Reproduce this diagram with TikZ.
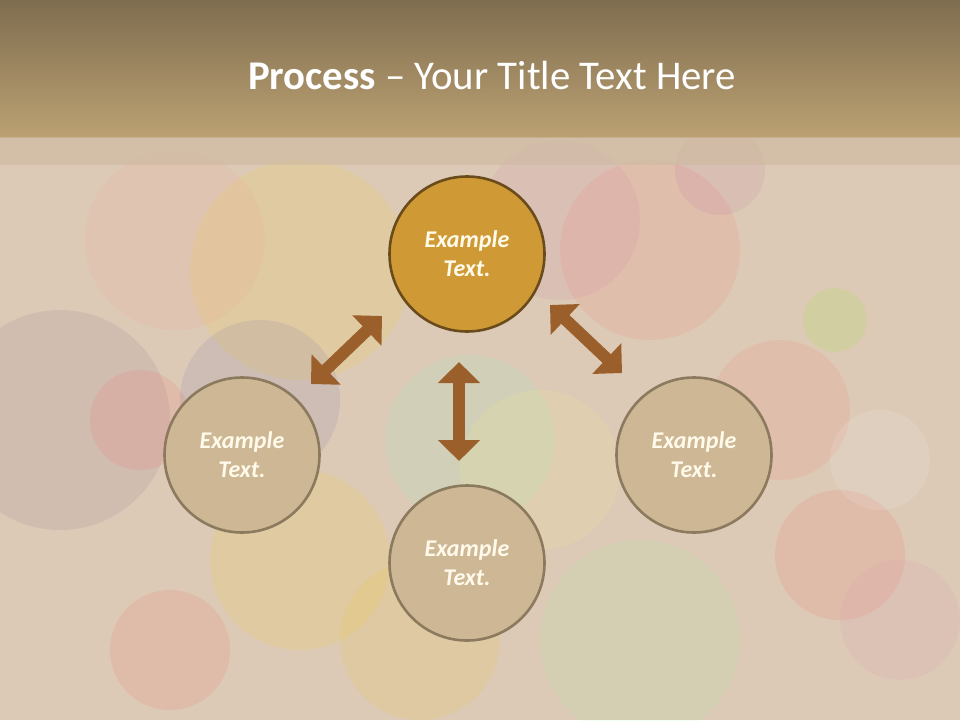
\documentclass[tikz,border=0pt]{standalone}
\usepackage{fontspec}
\setmainfont{Carlito}
\usetikzlibrary{arrows.meta}
\definecolor{hdrtop}{HTML}{7F6D50}
\definecolor{hdrbot}{HTML}{BBA172}
\definecolor{bgbase}{HTML}{DCCAB6}
\definecolor{band}{HTML}{CDB9A0}
\definecolor{goldfill}{HTML}{CF9A35}
\definecolor{golddraw}{HTML}{6A4B1B}
\definecolor{tanfill}{HTML}{CDB795}
\definecolor{tandraw}{HTML}{8C7A5E}
\definecolor{arrowc}{HTML}{9B5F2C}
\definecolor{txtc}{HTML}{FFFAEA}
\tikzset{
  circ/.style={circle, minimum size=155pt, inner sep=0pt, line width=2.6pt, align=center,
    font=\fontsize{24}{29}\selectfont\bfseries\itshape, text=txtc},
  topcirc/.style={circ, fill=goldfill, draw=golddraw},
  plaincirc/.style={circ, fill=tanfill, draw=tandraw},
  dblarrow/.style={draw=arrowc, line width=12pt,
    {Triangle[length=21pt,width=41pt]}-{Triangle[length=21pt,width=41pt]}},
  blob/.style={fill opacity=0.11}
}
\begin{document}
\begin{tikzpicture}[x=1pt,y=-1pt]
\useasboundingbox (0,0) rectangle (960,720);
% background
\fill[bgbase] (0,0) rectangle (960,720);
\begin{scope}
\clip (0,137) rectangle (960,720);
\fill[blob, color=pink!80!red] (175,240) circle (90);
\fill[blob, color=orange!40!yellow] (300,270) circle (110);
\fill[blob, color=violet!40!pink] (560,220) circle (80);
\fill[blob, color=red!50!pink] (650,250) circle (90);
\fill[blob, color=gray!60!violet] (60,420) circle (110);
\fill[blob, color=blue!30!gray] (260,400) circle (80);
\fill[blob, color=red!60!pink] (140,420) circle (50);
\fill[blob, color=green!40!cyan!50] (470,440) circle (85);
\fill[blob, color=yellow!50!white] (540,470) circle (80);
\fill[blob, color=red!50!pink] (780,410) circle (70);
\fill[blob, color=green!50!yellow] (835,320) circle (32);
\fill[blob, color=red!60!pink] (840,555) circle (65);
\fill[blob, color=green!40!white] (640,640) circle (100);
\fill[blob, color=red!60!pink] (170,650) circle (60);
\fill[blob, color=orange!40!yellow] (300,560) circle (90);
\fill[blob, color=pink!70!violet] (900,620) circle (60);
\fill[blob, color=yellow!60!orange] (420,640) circle (80);
\fill[blob, color=violet!50!pink] (720,170) circle (45);
\fill[blob, color=white] (880,460) circle (50);
\end{scope}
% header
\shade[top color=hdrtop, bottom color=hdrbot] (0,0) rectangle (960,137);
\fill[band, opacity=0.6] (0,137) rectangle (960,165);
\node[text=white, font=\fontsize{40.8}{48}\selectfont] (title) at (492,75)
  {\textbf{Process} -- Your Title Text Here};
% circles
\node[topcirc] (top) at (467,254) {Example\\Text.};
\node[plaincirc] (left) at (242,455) {Example\\Text.};
\node[plaincirc] (right) at (694,455) {Example\\Text.};
\node[plaincirc] (bottom) at (467,563) {Example\\Text.};
% arrow end points
\coordinate (la) at (311,384);
\coordinate (lb) at (382,316);
\coordinate (ma) at (459,362);
\coordinate (mb) at (459,461);
\coordinate (ra) at (550,305);
\coordinate (rb) at (622,373);
\draw[dblarrow] (la) -- (lb);
\draw[dblarrow] (ma) -- (mb);
\draw[dblarrow] (ra) -- (rb);
\end{tikzpicture}
\end{document}
